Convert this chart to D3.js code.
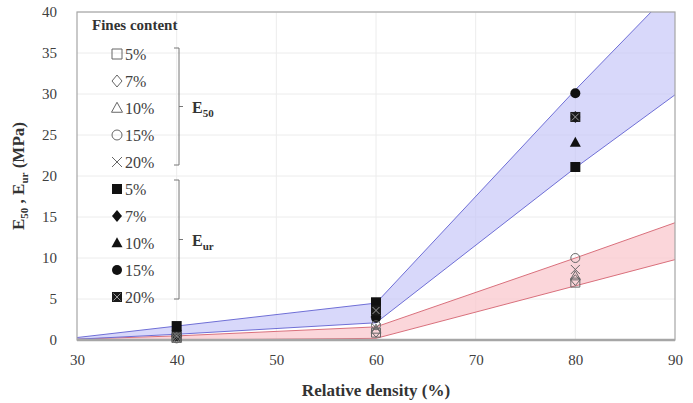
<!DOCTYPE html>
<html>
<head>
<meta charset="utf-8">
<script src="https://cdn.jsdelivr.net/npm/d3@7"></script>
<style>
  body { margin: 0; background: #fff; }
  svg text { font-family: "Liberation Serif", "Times New Roman", Times, "DejaVu Serif", "Noto Serif", serif !important; }
</style>
</head>
<body>
<svg width="693" height="403"></svg>
<script>
// data
const density = [40, 60, 80];
const fines = ['5%', '7%', '10%', '15%', '20%'];

const e50_5 = [0.3, 0.9, 7.0];
const e50_7 = [0.3, 1.0, 7.3];
const e50_10 = [0.2, 1.3, 7.8];
const e50_15 = [0.2, 1.8, 10.0];
const e50_20 = [0.2, 1.5, 8.6];

const eur_5 = [1.7, 4.6, 21.1];
const eur_7 = [1.2, 3.9, 27.2];
const eur_10 = [0.9, 3.3, 24.1];
const eur_15 = [0.6, 2.7, 30.1];
const eur_20 = [0.5, 3.6, 27.2];

// shaded bands (upper / lower edges)
const bandX = [30, 40, 60, 80, 90];
const eurUpper = [0.3, 1.7, 4.5, 30.5, 43.0];
const eurLower = [0.1, 0.7, 2.1, 21.0, 29.9];
const e50Upper = [0.1, 0.5, 1.6, 10.0, 14.3];
const e50Lower = [0.0, 0.0, 0.2, 6.6, 9.8];

const xTicks = [30, 40, 50, 60, 70, 80, 90];
const yTicks = [0, 5, 10, 15, 20, 25, 30, 35, 40];

const svg = d3.select('svg');
const margin = { left: 77, right: 18, top: 12, bottom: 63 };
const width = +svg.attr('width');
const height = +svg.attr('height');
const innerWidth = width - margin.left - margin.right;
const innerHeight = height - margin.top - margin.bottom;

const xScale = d3.scaleLinear().domain([30, 90]).range([0, innerWidth]);
const yScale = d3.scaleLinear().domain([0, 40]).range([innerHeight, 0]);

const g = svg.append('g').attr('transform', `translate(${margin.left},${margin.top})`);

g.append('defs').append('clipPath').attr('id', 'plot')
  .append('rect').attr('width', innerWidth).attr('height', innerHeight);

// gridlines
g.append('g').selectAll('line.h').data(yTicks.slice(1)).join('line')
  .attr('x1', 0).attr('x2', innerWidth)
  .attr('y1', d => yScale(d)).attr('y2', d => yScale(d))
  .attr('stroke', '#ececec');
g.append('g').selectAll('line.v').data(xTicks.slice(1, -1)).join('line')
  .attr('y1', 0).attr('y2', innerHeight)
  .attr('x1', d => xScale(d)).attr('x2', d => xScale(d))
  .attr('stroke', '#ececec');

// bands
const bandArea = (up, lo) => d3.area()
  .x((d, i) => xScale(bandX[i]))
  .y0((d, i) => yScale(lo[i]))
  .y1((d, i) => yScale(up[i]))(bandX);
const bandLine = (vals) => d3.line()
  .x((d, i) => xScale(bandX[i]))
  .y((d, i) => yScale(vals[i]))(bandX);

const bands = g.append('g').attr('clip-path', 'url(#plot)');
bands.append('path').attr('d', bandArea(e50Upper, e50Lower))
  .attr('fill', '#f9c8cd').attr('fill-opacity', 0.75);
bands.append('path').attr('d', bandArea(eurUpper, eurLower))
  .attr('fill', '#c8c8f8').attr('fill-opacity', 0.7);
[e50Upper, e50Lower].forEach(v => bands.append('path').attr('d', bandLine(v))
  .attr('fill', 'none').attr('stroke', '#d9707c').attr('stroke-width', 1));
[eurUpper, eurLower].forEach(v => bands.append('path').attr('d', bandLine(v))
  .attr('fill', 'none').attr('stroke', '#6f6fd6').attr('stroke-width', 1));

// plot frame
g.append('rect').attr('width', innerWidth).attr('height', innerHeight)
  .attr('fill', 'none').attr('stroke', '#a6a6a6').attr('stroke-width', 1.2);
g.append('line').attr('x1', 0).attr('x2', innerWidth)
  .attr('y1', innerHeight).attr('y2', innerHeight)
  .attr('stroke', '#a6a6a6').attr('stroke-width', 2.5);

// axes
const xAxis = d3.axisBottom(xScale).tickValues(xTicks).tickSize(0).tickPadding(14);
const yAxis = d3.axisLeft(yScale).tickValues(yTicks).tickSize(0).tickPadding(20);
const xg = g.append('g').attr('transform', `translate(0,${innerHeight})`).call(xAxis);
const yg = g.append('g').call(yAxis);
[xg, yg].forEach(a => {
  a.attr('font-family', null);
  a.select('.domain').remove();
  a.selectAll('text').attr('font-size', 15).attr('fill', '#404040');
});

// markers
const mk = {
  square: (s) => `M${-s},${-s}H${s}V${s}H${-s}Z`,
  diamond: (s) => `M0,${-s * 1.2}L${s},0L0,${s * 1.2}L${-s},0Z`,
  triangle: (s) => `M0,${-s * 1.15}L${s * 1.1},${s * 0.85}H${-s * 1.1}Z`,
  circle: (s) => `M${s},0A${s},${s} 0 1,1 ${-s},0A${s},${s} 0 1,1 ${s},0Z`,
  cross: (s) => `M${-s},${-s}L${s},${s}M${s},${-s}L${-s},${s}`,
};
const shapes = ['square', 'diamond', 'triangle', 'circle', 'cross'];

function drawMarker(sel, shape, x, y, filled, s) {
  const gg = sel.append('g').attr('transform', `translate(${x},${y})`);
  if (filled) {
    if (shape === 'cross') {
      gg.append('path').attr('d', mk.square(s)).attr('fill', '#1a1a1a');
      gg.append('path').attr('d', mk.cross(s * 0.7)).attr('stroke', '#9a9a9a').attr('stroke-width', 1);
    } else {
      gg.append('path').attr('d', mk[shape](s)).attr('fill', '#111');
    }
  } else {
    gg.append('path').attr('d', mk[shape](s)).attr('fill', 'none')
      .attr('stroke', '#666').attr('stroke-width', 1);
  }
}

const e50Series = [e50_5, e50_7, e50_10, e50_15, e50_20];
const eurSeries = [eur_5, eur_7, eur_10, eur_15, eur_20];
const drawOrder = [1, 0, 2, 3, 4];

const pts = g.append('g');
drawOrder.forEach(k => eurSeries[k].forEach((v, i) =>
  drawMarker(pts, shapes[k], xScale(density[i]), yScale(v), true, 5)));
drawOrder.forEach(k => e50Series[k].forEach((v, i) =>
  drawMarker(pts, shapes[k], xScale(density[i]), yScale(v), false, 4.5)));

// legend
const leg = svg.append('g');
leg.append('text').attr('x', 92).attr('y', 30).attr('font-size', 15)
  .attr('font-weight', 'bold').attr('fill', '#333').text('Fines content');

const rowY0 = 54, rowStep = 27;
fines.forEach((f, k) => {
  [false, true].forEach((filled, j) => {
    const y = rowY0 + (j * 5 + k) * rowStep;
    drawMarker(leg, shapes[k], 117, y, filled, 5);
    leg.append('text').attr('x', 125).attr('y', y + 5.5).attr('font-size', 16)
      .attr('fill', '#404040').text(f);
  });
});

function bracket(y1, y2, label) {
  const ym = (y1 + y2) / 2;
  leg.append('path')
    .attr('d', `M174,${y1}H179V${y2}H174M179,${ym}H183`)
    .attr('fill', 'none').attr('stroke', '#777').attr('stroke-width', 1);
  const t = leg.append('text').attr('x', 192).attr('y', ym + 6)
    .attr('font-size', 16).attr('font-weight', 'bold').attr('fill', '#333');
  t.append('tspan').text('E');
  t.append('tspan').attr('font-size', 11).attr('dy', 4).text(label);
}
bracket(48, 165, '50');
bracket(180, 299, 'ur');

// axis titles
svg.append('text').attr('x', margin.left + innerWidth / 2).attr('y', 396)
  .attr('text-anchor', 'middle').attr('font-size', 17).attr('font-weight', 'bold')
  .attr('fill', '#333').text('Relative density (%)');

const yl = svg.append('text').attr('transform', 'translate(24,176) rotate(-90)')
  .attr('text-anchor', 'middle').attr('font-size', 17).attr('font-weight', 'bold')
  .attr('fill', '#333');
yl.append('tspan').text('E');
yl.append('tspan').attr('font-size', 11).attr('dy', 4).text('50');
yl.append('tspan').attr('dy', -4).text(' ,  E');
yl.append('tspan').attr('font-size', 11).attr('dy', 4).text('ur');
yl.append('tspan').attr('dy', -4).text(' (MPa)');
</script>
</body>
</html>
